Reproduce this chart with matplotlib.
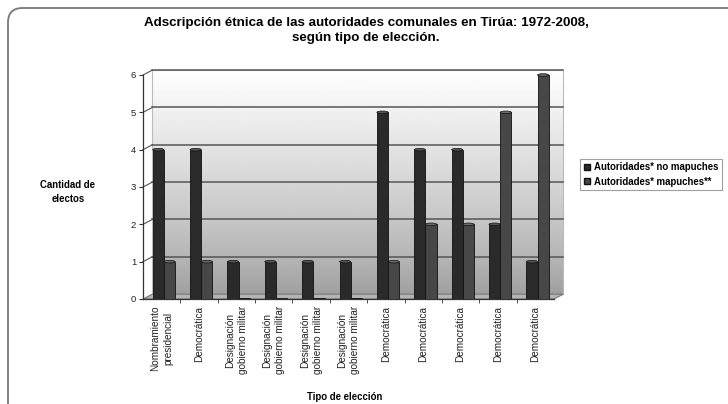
import numpy as np
import matplotlib.pyplot as plt
from matplotlib.patches import Polygon, Ellipse, FancyBboxPatch
from matplotlib.lines import Line2D

plt.rcParams['font.family'] = ['Liberation Sans', 'DejaVu Sans']

# datos
categorias = ['Nombramiento\npresidencial', 'Democrática',
              'Designación\ngobierno militar', 'Designación\ngobierno militar',
              'Designación\ngobierno militar', 'Designación\ngobierno militar',
              'Democrática', 'Democrática', 'Democrática', 'Democrática',
              'Democrática']
no_mapuches = [4, 4, 1, 1, 1, 1, 5, 4, 4, 2, 1]
mapuches = [1, 1, 0, 0, 0, 0, 1, 2, 2, 5, 6]
series = ['Autoridades* no mapuches', 'Autoridades* mapuches**']

W, H = 728, 404
fig = plt.figure(figsize=(W / 100, H / 100), dpi=100)
ax = fig.add_axes([143 / W, 105 / H, 411 / W, 224 / H])

n = len(categorias)
x = np.arange(n)
dx, dy = 0.25, 0.13  # desplazamiento de la pared del fondo (efecto 3D)

# pared del fondo con degradado (blanco arriba, gris abajo)
t = np.linspace(0, 1, 256).reshape(-1, 1)
grad = 0.62 + 0.38 * t ** 0.8
im = ax.imshow(grad, cmap='gray', vmin=0, vmax=1, aspect='auto', origin='lower',
               extent=[-0.5 + dx, n - 0.5 + dx, dy, 6 + dy], zorder=0)
im.set_clip_on(False)
ax.add_patch(Polygon([[-0.5 + dx, dy], [n - 0.5 + dx, dy], [n - 0.5 + dx, 6 + dy],
                      [-0.5 + dx, 6 + dy]], closed=True, fill=False,
                     edgecolor='#bbbbbb', lw=0.8, clip_on=False, zorder=1))

# piso
ax.add_patch(Polygon([[-0.5, 0], [n - 0.5, 0], [n - 0.5 + dx, dy], [-0.5 + dx, dy]],
                     closed=True, facecolor='#b4b4b4', edgecolor='#777777',
                     lw=0.8, clip_on=False, zorder=1))

# lineas de cuadricula
for yv in range(1, 7):
    ax.plot([-0.5 + dx, n - 0.5 + dx], [yv + dy, yv + dy], color='#555555',
            lw=1.1, clip_on=False, zorder=2)
    ax.plot([-0.5, -0.5 + dx], [yv, yv + dy], color='#555555', lw=0.8,
            clip_on=False, zorder=2)

# barras
bw = 0.3
off = 0.06
col1, col2 = '#2a2a2a', '#474747'
h2 = [v if v > 0 else 0.04 for v in mapuches]
ax.bar(x - bw / 2 + off, no_mapuches, width=bw, color=col1, edgecolor='#111111',
       lw=0.6, zorder=3, label=series[0])
ax.bar(x + bw / 2 + off, h2, width=bw, color=col2, edgecolor='#111111',
       lw=0.6, zorder=3, label=series[1])
for i in range(n):
    ax.add_patch(Ellipse((x[i] - bw / 2 + off, no_mapuches[i]), bw, 0.07,
                         facecolor='#555555', edgecolor='#111111', lw=0.5,
                         zorder=4, clip_on=False))
    if mapuches[i] > 0:
        ax.add_patch(Ellipse((x[i] + bw / 2 + off, mapuches[i]), bw, 0.07,
                             facecolor='#6a6a6a', edgecolor='#111111', lw=0.5,
                             zorder=4, clip_on=False))

ax.set_xlim(-0.5, n - 0.5)
ax.set_ylim(0, 6)
ax.set_yticks(range(7))
ax.set_xticks(x)
ax.set_xticklabels(categorias, rotation=90, fontsize=7.2, va='top', ha='center',
                   multialignment='center', color='#222222', linespacing=1.35)
ax.set_xticks(np.arange(0.5, n - 0.5, 1), minor=True)
ax.tick_params(axis='x', which='major', length=0, pad=5)
ax.tick_params(axis='x', which='minor', length=3, direction='out', color='#333333')
ax.tick_params(axis='y', length=3, direction='out', labelsize=6.8, pad=2,
               color='#333333', labelcolor='#222222')
for s in ['top', 'right']:
    ax.spines[s].set_visible(False)
for s in ['left', 'bottom']:
    ax.spines[s].set_color('#333333')
    ax.spines[s].set_linewidth(0.9)

# textos
fig.text(366 / W, 1 - 30.5 / H,
         'Adscripción étnica de las autoridades comunales en Tirúa: 1972-2008,\n'
         'según tipo de elección.', ha='center', va='center', fontsize=9.6,
         fontweight='bold', linespacing=1.4)
fig.text(68 / W, 1 - 192 / H, 'Cantidad de\nelectos', ha='center', va='center',
         fontsize=6.9, fontweight='bold', linespacing=1.4)
fig.text(345 / W, 1 - 397 / H, 'Tipo de elección', ha='center', va='center',
         fontsize=6.9, fontweight='bold')

handles = [Line2D([], [], marker='s', ls='', markersize=5, markerfacecolor=col1,
                  markeredgecolor='#111111'),
           Line2D([], [], marker='s', ls='', markersize=5, markerfacecolor=col2,
                  markeredgecolor='#111111')]
leg = fig.legend(handles, series, loc='upper left',
                 bbox_to_anchor=(580 / W, 1 - 159 / H),
                 prop={'weight': 'bold', 'size': 6.9}, frameon=True,
                 fancybox=False, edgecolor='#888888', handlelength=0.8,
                 handletextpad=0.3, borderpad=0.35, labelspacing=0.45,
                 borderaxespad=0)
leg.get_frame().set_linewidth(0.8)

# marco redondeado del grafico
fig.patches.append(FancyBboxPatch((8 / W, -20 / H), 780 / W, (396 + 20) / H,
                                  boxstyle='round,pad=0,rounding_size=0.02',
                                  transform=fig.transFigure, fill=False,
                                  edgecolor='#777777', lw=1.3, mutation_aspect=W / H))

fig.savefig('out.png', dpi=100)
